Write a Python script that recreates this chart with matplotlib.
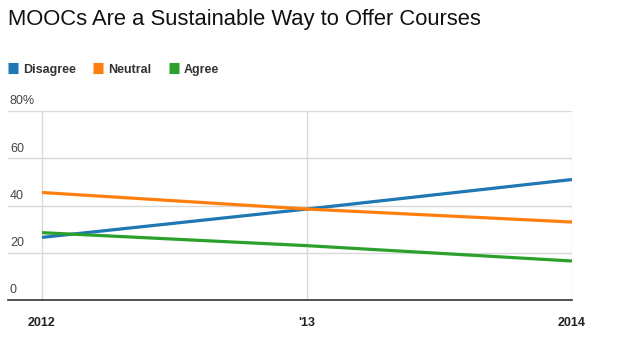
import matplotlib.pyplot as plt
from matplotlib.transforms import blended_transform_factory

years = [2012, 2013, 2014]
year_labels = ["2012", "'13", "2014"]
disagree = [26.5, 38.5, 51]
neutral = [45.5, 38.5, 33]
agree = [28.5, 23, 16.5]
y_ticks = [0, 20, 40, 60, 80]
y_labels = ["0", "20", "40", "60", "80%"]

plt.rcParams['font.family'] = ['Liberation Sans', 'DejaVu Sans']

fig = plt.figure(figsize=(6.2, 3.4), dpi=100)
ax = fig.add_axes([8 / 620, 40 / 340, 564 / 620, 189 / 340])

ax.plot(years, disagree, color='#1f77b4', lw=2.3, label='Disagree', solid_capstyle='butt')
ax.plot(years, neutral, color='#ff7f0e', lw=2.3, label='Neutral', solid_capstyle='butt')
ax.plot(years, agree, color='#2ca02c', lw=2.3, label='Agree', solid_capstyle='butt')

ax.set_xlim(2012 - 34 / 265, 2014)
ax.set_ylim(0, 80)
ax.set_yticks(y_ticks)
ax.set_yticklabels([])
ax.tick_params(axis='y', length=0)
ax.set_xticks(years)
ax.set_xticklabels(year_labels, fontweight='bold', fontsize=9, color='#222')
ax.tick_params(axis='x', length=0, pad=12)
ax.grid(True, color='#d9d9d9', lw=1)
ax.set_axisbelow(True)
for s in ['left', 'right', 'top']:
    ax.spines[s].set_visible(False)
ax.spines['bottom'].set_color('#333333')
ax.spines['bottom'].set_linewidth(1.2)

trans = blended_transform_factory(ax.transAxes, ax.transData)
for v, lab in zip(y_ticks, y_labels):
    ax.text(2 / 564, v + 1.5, lab, transform=trans, fontsize=9, color='#444444',
            ha='left', va='bottom')

fig.text(8 / 620, 1 - 20 / 340, "MOOCs Are a Sustainable Way to Offer Courses",
         fontsize=15.8, color='#111111', ha='left', va='center')

leg = ax.legend(loc='lower left', bbox_to_anchor=(0, 1.185), ncol=3, frameon=False,
                handlelength=0.8, handleheight=0.8, handletextpad=0.4, columnspacing=1.4,
                borderaxespad=0, borderpad=0,
                prop={'weight': 'bold', 'size': 9})
for h in leg.legend_handles:
    h.set_linewidth(8)
for t in leg.get_texts():
    t.set_color('#333333')

fig.savefig('out.png', dpi=100)
